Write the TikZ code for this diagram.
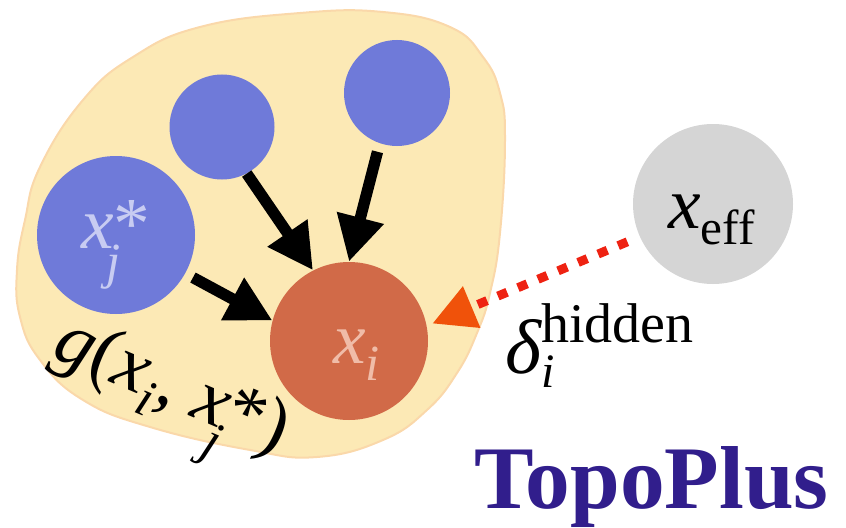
\documentclass[tikz,border=0pt]{standalone}
\usepackage{fontspec}
\setmainfont{Liberation Serif}
\usetikzlibrary{arrows.meta}
\definecolor{blobfill}{RGB}{252,233,181}
\definecolor{blobline}{RGB}{250,216,170}
\definecolor{nodeblue}{RGB}{111,122,217}
\definecolor{bluetext}{RGB}{200,204,242}
\definecolor{nodeorange}{RGB}{209,106,72}
\definecolor{orangetext}{RGB}{240,188,168}
\definecolor{nodegray}{RGB}{213,213,213}
\definecolor{dotred}{RGB}{238,34,18}
\definecolor{headorange}{RGB}{240,82,10}
\definecolor{topoblue}{RGB}{49,30,140}
\newcommand\mainsize{\fontsize{55}{60}\selectfont}
\newcommand\subsize{\fontsize{38}{40}\selectfont}
\begin{document}
\begin{tikzpicture}[x=0.75pt,y=-0.75pt,
  disc/.style={circle,inner sep=0pt,draw=none},
  flow/.style={line width=8.5pt,-{Triangle[length=34pt,width=34pt]}},
  hiddenflow/.style={draw=dotred,line width=6.75pt,dash pattern=on 7.5pt off 8.8pt,
    -{Triangle[length=32pt,width=32pt,color=headorange]}},
  txt/.style={inner sep=0pt,anchor=base west,font=\mainsize}]
\useasboundingbox (0,0) rectangle (846,528);
% blob
\fill[blobfill,draw=blobline,line width=1.5pt] plot[smooth cycle,tension=0.75] coordinates {
 (20,317) (17,270) (25,220) (40,167) (83,100) (133,57) (200,27) (300,13) (383,12)
 (450,27) (483,57) (500,93) (505,140) (500,233) (490,293) (477,333) (457,373)
 (427,410) (383,440) (317,457) (250,450) (150,427) (83,400) (40,360)};
% nodes
\node[disc,fill=nodeblue,minimum size=118.5pt] (xj) at (116,235) {};
\node[disc,fill=nodeblue,minimum size=78.75pt] (tm) at (222,127) {};
\node[disc,fill=nodeblue,minimum size=79.5pt] (tr) at (397,93) {};
\node[disc,fill=nodeorange,minimum size=118.5pt] (xi) at (349,341) {};
\node[disc,fill=nodegray,minimum size=120pt] (eff) at (713,204) {};
% arrows
\draw[flow] (tm.298) -- (xi.117);
\draw[flow,shorten <=6.5pt] (tr.251) -- (xi.90);
\draw[flow,shorten <=6.5pt] (xj.331) -- (xi.165);
\draw[hiddenflow,shorten <=10pt,shorten >=4.5pt] (eff.204) -- (xi.11);
% labels
\node[txt,text=bluetext] (lxj) at (81,248)
  {\itshape x\rlap{\kern-0.1em\raisebox{-0.41em}{\subsize j}}\upshape *};
\node[txt,text=orangetext] (lxi) at (333,363)
  {\itshape x\raisebox{-0.245em}{\subsize i}};
\node[txt] (leff) at (668,228)
  {\itshape x\upshape\raisebox{-0.22em}{\fontsize{37}{40}\selectfont eff}};
\node[txt,font=\fontsize{58}{62}\selectfont] (ldelta) at (505,373)
  {\itshape δ\rlap{\raisebox{-0.19em}{\fontsize{36}{38}\selectfont i}}\upshape\raisebox{0.39em}{\fontsize{42}{44}\selectfont hidden}};
\node[txt,anchor=center,rotate=-23,font=\fontsize{57}{60}\selectfont] (lg) at (166,400)
  {\itshape g\upshape(\itshape x\raisebox{-0.245em}{\fontsize{39}{42}\selectfont i}\upshape, \itshape x\rlap{\kern-0.1em\raisebox{-0.41em}{\fontsize{39}{42}\selectfont j}}\upshape*)};
\node[txt,font=\fontsize{67}{70}\selectfont\bfseries,text=topoblue] (title) at (474,508) {TopoPlus};
\end{tikzpicture}
\end{document}
